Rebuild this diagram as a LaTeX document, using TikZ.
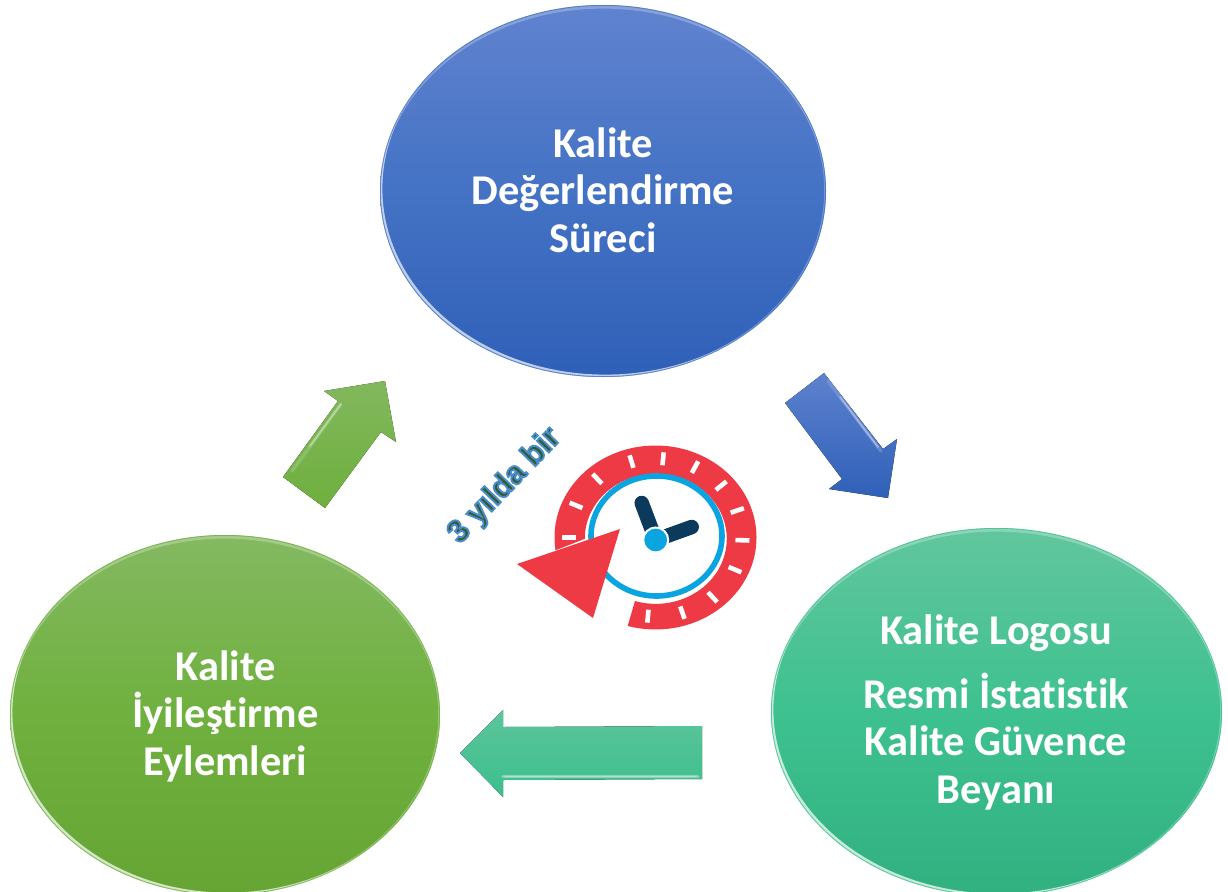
\documentclass[tikz,border=0pt]{standalone}
\usepackage{fontspec}
\setmainfont{Carlito}[Ligatures=NoCommon]
\newfontfamily\slogan{Liberation Sans}[BoldFont={Liberation Sans Bold}]
\usetikzlibrary{shapes.geometric}
\definecolor{cblueT}{HTML}{6083CF}
\definecolor{cblueM}{HTML}{4472C4}
\definecolor{cblueB}{HTML}{2F60B8}
\definecolor{cgreenT}{HTML}{84B961}
\definecolor{cgreenM}{HTML}{6FB03E}
\definecolor{cgreenB}{HTML}{66A533}
\definecolor{ctealT}{HTML}{62C69D}
\definecolor{ctealM}{HTML}{3EC190}
\definecolor{ctealB}{HTML}{31B080}
\definecolor{cred}{HTML}{EE3A45}
\definecolor{cring}{HTML}{0AA5E0}
\definecolor{cnavy}{HTML}{0B3A5C}
\tikzset{
  disc/.style={ellipse,inner sep=0pt,draw=none},
  disctext/.style={text=white,align=center,font=\fontsize{42.4}{47.5}\selectfont\bfseries,inner sep=0pt},
  blockarrow/.style={draw=none},
  sheen/.style={line width=3.6pt,line cap=round,opacity=.35},
  sheencore/.style={line width=1.6pt,line cap=round,opacity=.75},
  tick/.style={white,line width=4.6pt},
  hand/.style={cnavy,line width=14.5pt,line cap=round}
}
\newcommand{\rimlight}[6]{%
  \begin{scope}
    \clip (#1,#2) ellipse [x radius=#3,y radius=#4];
    \fill[#5,opacity=.95,even odd rule] (#1-#3-9,#2-#4-9) rectangle (#1+#3+9,#2+#4+9)
      (#1+2.4,#2-2.4) ellipse [x radius=#3,y radius=#4];
    \fill[#5,opacity=.38,even odd rule] (#1-#3-9,#2-#4-9) rectangle (#1+#3+9,#2+#4+9)
      (#1-1.8,#2-.6) ellipse [x radius=#3,y radius=#4];
    \fill[#5,opacity=.38,even odd rule] (#1-#3-9,#2-#4-9) rectangle (#1+#3+9,#2+#4+9)
      (#1,#2+3.6) ellipse [x radius=#3,y radius=#4];
    \draw[#6,line width=1.6pt,opacity=.8] (#1,#2) ellipse [x radius=#3,y radius=#4];
  \end{scope}}
\begin{document}
\begin{tikzpicture}[x=1pt,y=-1pt]
\useasboundingbox (0,0) rectangle (1228,891);
\begin{scope}
\clip (0,0) rectangle (1228,891);
% discs
\node[disc,minimum width=446pt,minimum height=372pt,top color=cblueT,bottom color=cblueB,middle color=cblueM] (eval) at (603,191) {};
\rimlight{603}{191}{223}{186}{white!65!cblueT}{cblueM}
\node[disc,minimum width=430pt,minimum height=360pt,top color=cgreenT,bottom color=cgreenB,middle color=cgreenM] (act) at (225,715) {};
\rimlight{225}{715}{215}{180}{white!70!cgreenT}{cgreenM}
\node[disc,minimum width=451pt,minimum height=368pt,top color=ctealT,bottom color=ctealB,middle color=ctealM] (logo) at (996.5,712) {};
\rimlight{996.5}{712}{225.5}{184}{white!70!ctealT}{ctealM}
\end{scope}
% disc texts
\node[disctext] (evalt) at (603,190) {Kalite\\Değerlendirme\\Süreci};
\node[disctext] (actt) at (225.5,716) {Kalite\\İyileştirme\\Eylemleri};
\node[disctext] (logot) at (996,712) {Kalite Logosu\\[16.5pt]Resmi İstatistik\\Kalite Güvence\\Beyanı};
% block arrows
\fill[blockarrow,top color=cgreenT!90!cgreenM,bottom color=cgreenM!90!cgreenB] (385,381) -- (324,391) -- (338,401) -- (283,477) -- (325,508) -- (381,432) -- (396,442) -- cycle;
\draw[sheen,white!40!cgreenT] (341,404) -- (292,471);
\draw[sheencore,white!55!cgreenT] (341,404) -- (310,446);
\fill[blockarrow,top color=cblueT!90!cblueM,bottom color=cblueB] (824,373) -- (785,403) -- (842,479) -- (829,489) -- (888,498) -- (897,439) -- (883,449) -- cycle;
\draw[sheen,white!40!cblueT] (828,381) -- (881,451);
\draw[sheencore,white!55!cblueT] (840,397) -- (878,447);
\fill[blockarrow,top color=ctealT!85!ctealM,bottom color=ctealM!85!ctealB] (460,753) -- (503,710) -- (503,727) -- (702,726) -- (702,779) -- (503,780) -- (503,797) -- cycle;
\draw[sheen,white!50!ctealT,opacity=.6] (503,776.5) -- (698,776.5);
\draw[sheencore,white!60!ctealT] (505,776.5) -- (696,776.5);
% clock
\fill[cred] (655.5,537.5) ++(172:101 and 92) arc [start angle=172,end angle=466,x radius=101,y radius=92]
  -- (635,601) arc [start angle=467,end angle=180,x radius=71,y radius=65] -- cycle;
\foreach \t in {180,204,228,254,275,297,319,340,2,24,49,72,95}
  \draw[tick] (655.5,537.5) ++({80*cos(\t)},{72.5*sin(\t)}) -- ++({14*cos(\t)},{13*sin(\t)});
\draw[cring,line width=5.6pt] (656.5,536) ellipse [x radius=65.5,y radius=60];
\coordinate (hub) at (655.7,540);
\coordinate (hourtip) at (641.7,503);
\coordinate (mintip) at (691.7,527);
\draw[hand] (hub) -- (hourtip);
\draw[hand] (hub) -- (mintip);
\node[circle,fill=cring,draw=white,line width=2pt,minimum size=25pt,inner sep=0pt] (hubdot) at (hub) {};
\fill[cred] (517,564) -- (620,529) -- (593,618) -- cycle;
% slogan
\node[rotate=46,inner sep=0pt,text=black] (slogan) at (505,486) {\special{pdf:code q 0.29 0.55 0.80 RG 0.19 0.36 0.18 rg 2 Tr 1.9 w}\slogan\bfseries\fontsize{31.5}{34}\selectfont 3 yılda bir\special{pdf:code Q}};
\end{tikzpicture}
\end{document}
